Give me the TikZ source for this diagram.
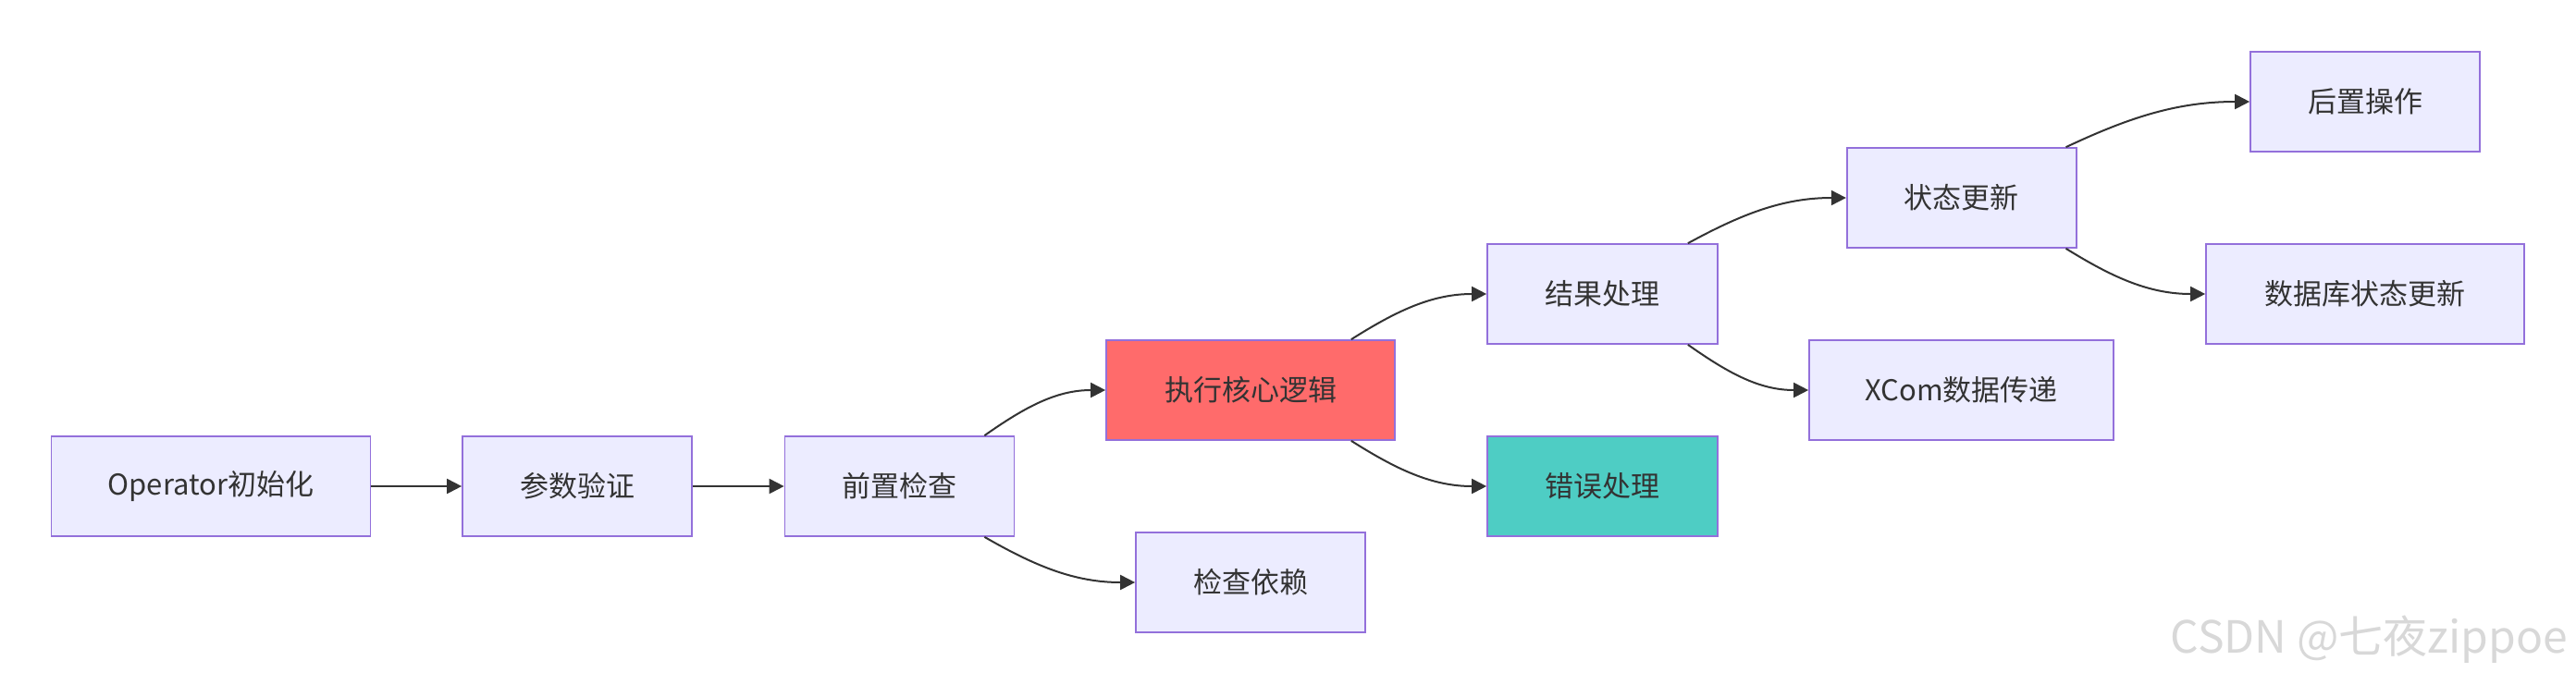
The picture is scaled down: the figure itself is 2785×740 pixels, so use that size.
\documentclass[tikz,border=0pt]{standalone}
\usepackage{fontspec}
\setmainfont{Noto Sans CJK SC}
\usetikzlibrary{arrows.meta}
\definecolor{nodefill}{HTML}{ECECFF}
\definecolor{nodeborder}{HTML}{9370DB}
\definecolor{redfill}{HTML}{FF6B6B}
\definecolor{tealfill}{HTML}{4ECDC4}
\definecolor{textc}{HTML}{333333}
\definecolor{edgec}{HTML}{333333}
\definecolor{wmark}{HTML}{D8D8D8}
\begin{document}
\begin{tikzpicture}[x=1pt,y=-1pt,
  box/.style={draw=nodeborder, line width=1.7pt, fill=nodefill, minimum height=108pt,
    inner sep=0pt, text=textc, font=\fontsize{31}{36}\selectfont},
  redbox/.style={box, fill=redfill},
  tealbox/.style={box, fill=tealfill},
  edge/.style={draw=edgec, line width=2pt, -{Triangle[length=16pt,width=16pt]}},
  watermark/.style={text=wmark, font=\fontsize{48}{56}\selectfont, inner sep=0pt}
]
\useasboundingbox (0,0) rectangle (2785,740);
\fill[white] (0,0) rectangle (2785,740);

% nodes
\node[box, minimum width=345pt] (op) at (228,526) {Operator初始化};
\node[box, minimum width=248pt] (pv) at (624,526) {参数验证};
\node[box, minimum width=248pt] (pc) at (972.5,526) {前置检查};
\node[redbox, minimum width=312pt] (ex) at (1352,422) {执行核心逻辑};
\node[box, minimum width=248pt] (cd) at (1352,630) {检查依赖};
\node[box, minimum width=249pt] (rp) at (1732.5,318) {结果处理};
\node[tealbox, minimum width=249pt] (ep) at (1732.5,526) {错误处理};
\node[box, minimum width=248pt] (su) at (2120.7,214) {状态更新};
\node[box, minimum width=329pt] (xc) at (2120.5,422) {XCom数据传递};
\node[box, minimum width=248pt] (po) at (2557,110) {后置操作};
\node[box, minimum width=344pt] (db) at (2557,318) {数据库状态更新};

% connectors
\draw[edge] (op.east) -- (pv.west);
\draw[edge] (pv.east) -- (pc.west);
\draw[edge] ([xshift=-33pt]pc.north east) .. controls +(44,-31) and +(-53,0) .. (ex.west);
\draw[edge] ([xshift=-33pt]pc.south east) .. controls +(54,31) and +(-66,0) .. (cd.west);
\draw[edge] ([xshift=-48pt]ex.north east) .. controls +(49,-31) and +(-59,0) .. (rp.west);
\draw[edge] ([xshift=-48pt]ex.south east) .. controls +(49,31) and +(-59,0) .. (ep.west);
\draw[edge] ([xshift=-33pt]rp.north east) .. controls +(57,-31) and +(-69,0) .. (su.west);
\draw[edge] ([xshift=-33pt]rp.south east) .. controls +(44,31) and +(-53,0) .. (xc.west);
\draw[edge] ([xshift=-12pt]su.north east) .. controls +(66,-31) and +(-80,0) .. (po.west);
\draw[edge] ([xshift=-12pt]su.south east) .. controls +(50,31) and +(-61,0) .. (db.west);

% watermark
\node[watermark, anchor=base east] (wm) at (2776,706) {CSDN @七夜zippoe};
\end{tikzpicture}
\end{document}
